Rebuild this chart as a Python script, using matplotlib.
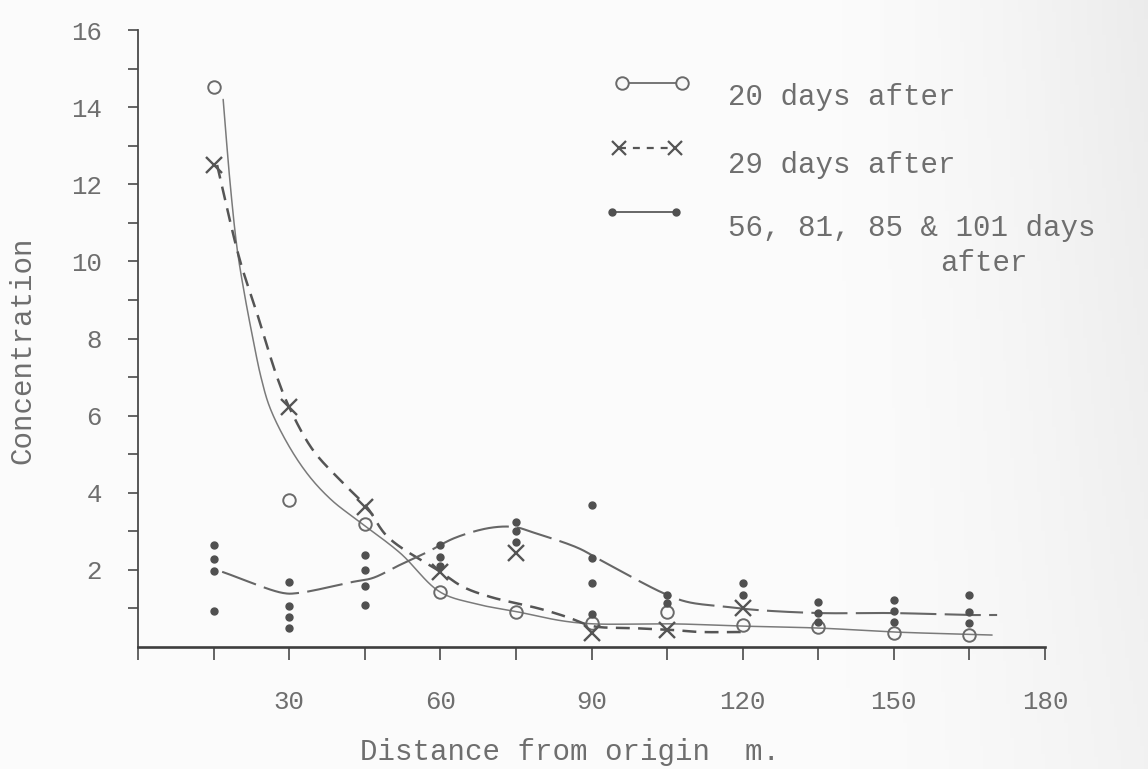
import numpy as np
import matplotlib
matplotlib.use("Agg")
import matplotlib.pyplot as plt
from matplotlib.ticker import MultipleLocator, FixedLocator

plt.rcParams["font.family"] = ["Liberation Mono", "DejaVu Sans Mono"]
plt.rcParams["lines.scale_dashes"] = False

W, H, DPI = 1148, 769, 100

# ---- measurements -------------------------------------------------------
distance = [15, 30, 45, 60, 75, 90, 105, 120, 135, 150, 165]

# 20 days after (open circles)
conc_20d = [14.52, 3.81, 3.19, 1.43, 0.91, 0.62, 0.91, 0.57, 0.52, 0.36, 0.31]

# 29 days after (crosses)
distance_29d = [15, 30, 45, 60, 75, 90, 105, 120]
conc_29d = [12.5, 6.22, 3.63, 1.95, 2.44, 0.36, 0.44, 1.01]

# 56, 81, 85 & 101 days after (dots, several readings per station)
conc_late = [
    [2.65, 2.28, 1.97, 0.93],
    [1.69, 1.06, 0.78, 0.49],
    [2.39, 2.00, 1.58, 1.09],
    [2.65, 2.33, 2.10],
    [3.24, 3.01, 2.72],
    [3.68, 2.31, 1.66, 0.86],
    [1.35, 1.14],
    [1.66, 1.35],
    [1.17, 0.88, 0.65],
    [1.22, 0.93, 0.65],
    [1.35, 0.91, 0.62],
]

# hand-fitted curves (node points along each drawn curve)
curve_20d_x = [16.9, 18.3, 19.7, 21.2, 22.8, 24.4, 26.2, 30.0, 34.1, 38.5,
               43.5, 52.0, 59.9, 67.0, 75.4, 84.1, 90.3, 106.2, 120.5, 135.3,
               149.8, 169.5]
curve_20d_y = [14.2, 12.0, 10.3, 9.1, 8.0, 7.0, 6.2, 5.2, 4.41, 3.8,
               3.29, 2.44, 1.43, 1.12, 0.91, 0.68, 0.6, 0.6, 0.54, 0.49,
               0.39, 0.31]

curve_29d_x = [15.7, 16.7, 20.2, 23.6, 27.6, 30.0, 34.7, 40.7, 45.4, 49.6,
               60.0, 64.5, 69.9, 79.8, 85.1, 90.3, 98.2, 106.2, 111.5, 121.0]
curve_29d_y = [12.5, 11.93, 10.04, 8.66, 7.0, 6.22, 5.11, 4.25, 3.63, 2.85,
               1.95, 1.56, 1.30, 0.99, 0.78, 0.54, 0.49, 0.44, 0.39, 0.39]

curve_late_x = [16.7, 28.8, 31.8, 42.7, 46.6, 52.0, 57.4, 62.9, 69.9, 74.8,
                78.2, 87.3, 91.7, 104.2, 109.0, 116.9, 122.8, 135.3, 149.8,
                164.7, 170.5]
curve_late_y = [1.95, 1.40, 1.40, 1.69, 1.79, 2.13, 2.46, 2.83, 3.09, 3.11,
                2.98, 2.57, 2.26, 1.40, 1.17, 1.04, 0.96, 0.88, 0.88,
                0.83, 0.83]

x_ticks_labelled = [30, 60, 90, 120, 150, 180]
y_ticks_labelled = [2, 4, 6, 8, 10, 12, 14, 16]

legend_labels = ["20 days after", "29 days after", "56, 81, 85 & 101 days"]
legend_tail = "after"

# ---- layout -------------------------------------------------------------
AX_L, AX_R, AX_T, AX_B = 138, 1045, 30, 647
XMAX, YMAX = 180, 16
SX = (AX_R - AX_L) / XMAX
SY = (AX_B - AX_T) / YMAX

TEXT = "#6e6e6e"


def smooth(xs, ys, n=24):
    """Centripetal Catmull-Rom spline through the node points (pixel-scaled)."""
    P = np.column_stack([np.asarray(xs) * SX, np.asarray(ys) * SY])
    P = np.vstack([2 * P[0] - P[1], P, 2 * P[-1] - P[-2]])
    out = []
    for i in range(1, len(P) - 2):
        p0, p1, p2, p3 = P[i - 1], P[i], P[i + 1], P[i + 2]
        t0 = 0.0
        t1 = t0 + np.linalg.norm(p1 - p0) ** 0.5
        t2 = t1 + np.linalg.norm(p2 - p1) ** 0.5
        t3 = t2 + np.linalg.norm(p3 - p2) ** 0.5
        t = np.linspace(t1, t2, n)[:, None]
        a1 = (t1 - t) / (t1 - t0) * p0 + (t - t0) / (t1 - t0) * p1
        a2 = (t2 - t) / (t2 - t1) * p1 + (t - t1) / (t2 - t1) * p2
        a3 = (t3 - t) / (t3 - t2) * p2 + (t - t2) / (t3 - t2) * p3
        b1 = (t2 - t) / (t2 - t0) * a1 + (t - t0) / (t2 - t0) * a2
        b2 = (t3 - t) / (t3 - t1) * a2 + (t - t1) / (t3 - t1) * a3
        c = (t2 - t) / (t2 - t1) * b1 + (t - t1) / (t2 - t1) * b2
        out.append(c if i == 1 else c[1:])
    pts = np.vstack(out)
    return pts[:, 0] / SX, pts[:, 1] / SY


fig = plt.figure(figsize=(W / DPI, H / DPI), dpi=DPI, facecolor="#f9f9f9")

# faint greyish tint of the paper towards the right edge
bg = fig.add_axes([0, 0, 1, 1], zorder=-10)
gx = np.linspace(0, 1, 300)
gy = np.linspace(0, 1, 200)
GX, GY = np.meshgrid(gx, gy)
shade = 0.985 - 0.06 * np.clip((GX - 0.72) / 0.28, 0, 1) ** 1.5 * (0.6 + 0.4 * GY)
bg.imshow(np.dstack([shade] * 3), extent=[0, 1, 0, 1], aspect="auto", origin="lower")
bg.set_axis_off()

ax = fig.add_axes([AX_L / W, 1 - AX_B / H, (AX_R - AX_L) / W, (AX_B - AX_T) / H])
ax.set_facecolor("none")
ax.set_xlim(0, XMAX)
ax.set_ylim(0, YMAX)

for side in ("top", "right"):
    ax.spines[side].set_visible(False)
ax.spines["left"].set_color("#4a4a4a")
ax.spines["left"].set_linewidth(1.3)
ax.spines["bottom"].set_color("#3e3e3e")
ax.spines["bottom"].set_linewidth(1.9)

ax.xaxis.set_major_locator(FixedLocator(x_ticks_labelled))
ax.xaxis.set_minor_locator(MultipleLocator(15))
ax.yaxis.set_major_locator(FixedLocator(y_ticks_labelled))
ax.yaxis.set_minor_locator(FixedLocator([1, 3, 5, 7, 9, 11, 13, 15]))
ax.set_xticklabels([str(v) for v in x_ticks_labelled])
ax.set_yticklabels([str(v) for v in y_ticks_labelled])
ax.tick_params(axis="x", which="both", direction="out", length=9, width=1.2,
               color="#4a4a4a", pad=22, labelsize=18.5, labelcolor=TEXT)
ax.tick_params(axis="y", which="both", direction="out", length=7, width=1.2,
               color="#4a4a4a", pad=19, labelsize=18.5, labelcolor=TEXT)

# curves
cx, cy = smooth(curve_20d_x, curve_20d_y)
ax.plot(cx, cy, color="#7a7a7a", lw=1.1, solid_capstyle="round")
cx, cy = smooth(curve_29d_x, curve_29d_y)
ax.plot(cx, cy, color="#555555", lw=1.8, dashes=(10, 6))
cx, cy = smooth(curve_late_x, curve_late_y)
ax.plot(cx, cy, color="#666666", lw=1.5, dashes=(26, 6))

# points
ax.plot(distance, conc_20d, ls="none", marker="o", ms=9, mfc="none",
        mec="#6a6a6a", mew=1.4, zorder=4)
ax.plot(distance_29d, conc_29d, ls="none", marker="x", ms=11, mec="#555555",
        mew=1.7, zorder=4)
late_x = [d for d, vals in zip(distance, conc_late) for _ in vals]
late_y = [v for vals in conc_late for v in vals]
ax.plot(late_x, late_y, ls="none", marker="o", ms=5, mfc="#505050",
        mec="#505050", zorder=5)


def px(xp, yp):
    """Data coordinates for a pixel position inside the plot frame."""
    return (xp - AX_L) / SX, (AX_B - yp) / SY


# legend key
(a, yk), (b, _) = px(622, 83), px(682, 83)
ax.plot([a, b], [yk, yk], color="#6a6a6a", lw=1.3, clip_on=False)
ax.plot([a, b], [yk, yk], ls="none", marker="o", ms=9, mfc="#f9f9f9",
        mec="#6a6a6a", mew=1.4, clip_on=False)
(a, yk), (b, _) = px(619, 148), px(675, 148)
ax.plot([a, b], [yk, yk], color="#555555", lw=1.6, dashes=(5, 5),
        clip_on=False)
ax.plot([a, b], [yk, yk], ls="none", marker="x", ms=10, mec="#555555",
        mew=1.6, clip_on=False)
(a, yk), (b, _) = px(612, 212), px(676, 212)
ax.plot([a, b], [yk, yk], color="#666666", lw=1.4, clip_on=False)
ax.plot([a, b], [yk, yk], ls="none", marker="o", ms=5, mfc="#505050",
        mec="#505050", clip_on=False)


def fig_text(xp, yp, s, **kw):
    fig.text(xp / W, 1 - yp / H, s, color=TEXT, **kw)


fig_text(728, 97, legend_labels[0], fontsize=21, va="center", ha="left")
fig_text(728, 165, legend_labels[1], fontsize=21, va="center", ha="left")
fig_text(728, 228, legend_labels[2], fontsize=21, va="center", ha="left")
fig_text(940, 263, legend_tail, fontsize=21, va="center", ha="left")

fig_text(360, 752, "Distance from origin  m.", fontsize=21, va="center",
         ha="left")
fig_text(22, 350, "Concentration", fontsize=21, va="center", ha="center",
         rotation=90)

fig.savefig("out.png", dpi=DPI, facecolor=fig.get_facecolor())
